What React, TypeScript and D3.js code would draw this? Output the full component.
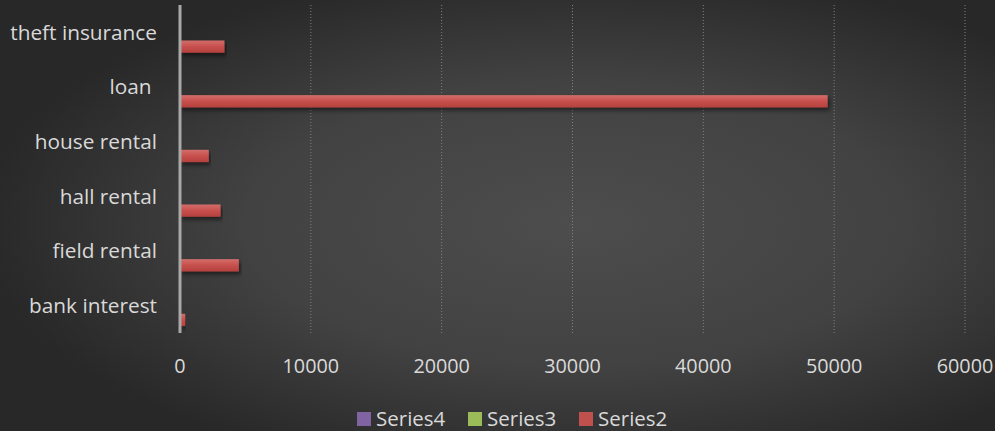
import React from "react";
import * as d3 from "d3";

const categories = ["bank interest", "field rental", "hall rental", "house rental", "loan ", "theft insurance"];
const seriesNames = ["Series2", "Series3", "Series4"];
const series2 = [400, 4500, 3100, 2200, 49500, 3400];
const series3 = [0, 0, 0, 0, 0, 0];
const series4 = [0, 0, 0, 0, 0, 0];
const xTicks = [0, 10000, 20000, 30000, 40000, 50000, 60000];
const legendOrder = ["Series4", "Series3", "Series2"];

const W = 995;
const H = 431;
const colors: Record<string, string> = { Series2: "#c0504d", Series3: "#9bbb59", Series4: "#8064a2" };
const FONT = "'Open Sans', 'Noto Sans', sans-serif";

export default function App() {
  const x = d3.scaleLinear().domain([0, 60000]).range([180, 965]);
  const y = d3.scaleBand<string>().domain([...categories].reverse()).range([5, 333]).padding(0);
  const groupH = y.bandwidth() * 0.8;
  const inner = d3
    .scaleBand<string>()
    .domain([...seriesNames].reverse())
    .range([-groupH / 2, groupH / 2])
    .paddingInner(0.14)
    .paddingOuter(0.1);
  const data: Record<string, number[]> = { Series2: series2, Series3: series3, Series4: series4 };

  return (
    <svg width={W} height={H} style={{ position: "absolute", left: 0, top: 0 }}>
      <defs>
        <radialGradient id="bg" cx="58%" cy="52%" r="60%">
          <stop offset="0%" stopColor="#4d4d4d" />
          <stop offset="55%" stopColor="#424242" />
          <stop offset="100%" stopColor="#282828" />
        </radialGradient>
        <linearGradient id="bar" x1="0" y1="0" x2="0" y2="1">
          <stop offset="0%" stopColor="#d26e6b" />
          <stop offset="45%" stopColor="#c9524f" />
          <stop offset="100%" stopColor="#b4403d" />
        </linearGradient>
        <filter id="shadow" x="-5%" y="-50%" width="110%" height="220%">
          <feDropShadow dx="2" dy="3" stdDeviation="2" floodColor="#000" floodOpacity="0.5" />
        </filter>
      </defs>
      <rect x={0} y={0} width={W} height={H} fill="url(#bg)" />
      {xTicks.slice(1).map((t) => (
        <line key={t} x1={x(t)} x2={x(t)} y1={5} y2={333} stroke="#808080" strokeWidth={1} strokeDasharray="1,2" />
      ))}
      {categories.map((c, i) =>
        seriesNames.map((s) => {
          const v = data[s][i];
          if (v <= 0) return null;
          const by = (y(c) as number) + y.bandwidth() / 2 + (inner(s) as number);
          return (
            <rect
              key={c + s}
              x={x(0)}
              y={by}
              width={x(v) - x(0)}
              height={inner.bandwidth()}
              fill={s === "Series2" ? "url(#bar)" : colors[s]}
              filter="url(#shadow)"
            />
          );
        })
      )}
      <line x1={x(0)} x2={x(0)} y1={5} y2={333} stroke="#a8a8a8" strokeWidth={3} />
      {categories.map((c) => (
        <text
          key={c}
          x={157}
          y={(y(c) as number) + y.bandwidth() / 2}
          dy="0.35em"
          textAnchor="end"
          fill="#d9d9d9"
          fontFamily={FONT}
          fontSize={20.8}
          style={{ whiteSpace: "pre" }}
        >
          {c}
        </text>
      ))}
      {xTicks.map((t) => (
        <text key={t} x={x(t)} y={373} textAnchor="middle" fill="#d9d9d9" fontFamily={FONT} fontSize={19.8}>
          {t}
        </text>
      ))}
      {legendOrder.map((s, i) => {
        const lx = 357 + i * 111;
        return (
          <g key={s}>
            <rect x={lx} y={412} width={14} height={14} fill={colors[s]} />
            <text x={lx + 19} y={426} fill="#d9d9d9" fontFamily={FONT} fontSize={20.5}>
              {s}
            </text>
          </g>
        );
      })}
    </svg>
  );
}
